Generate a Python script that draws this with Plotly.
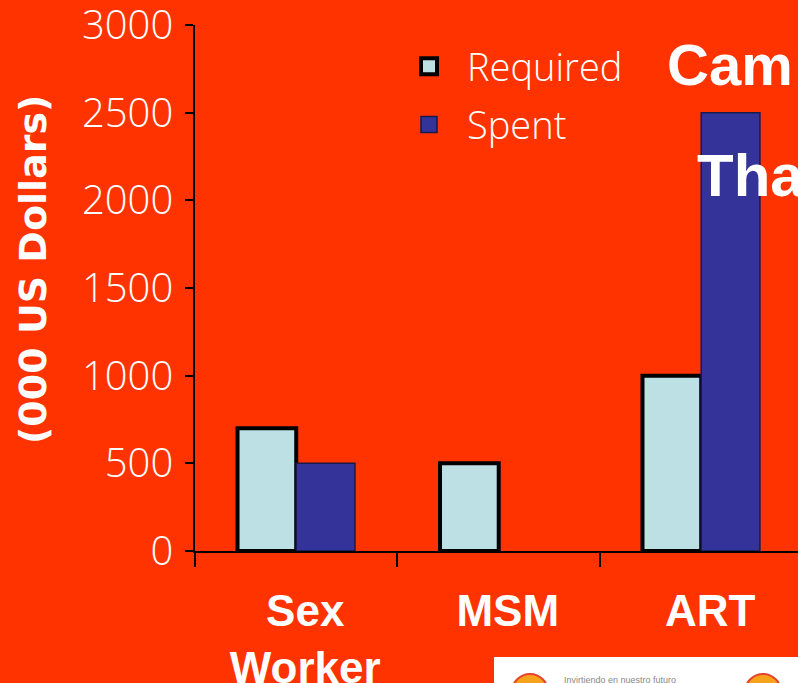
import plotly.graph_objects as go

categories = ["Sex<br>Worker", "MSM", "ART"]
required = [700, 500, 1000]
spent = [500, None, 2500]
y_ticks = [0, 500, 1000, 1500, 2000, 2500, 3000]

BG = "#FF3300"
W, H = 798, 683
L, R, T, B = 195, 0, 25, 132
PW, PH = W - L - R, H - T - B


def px(x):
    return (x - L) / PW


def py(y):
    return 1 - (y - T) / PH


fig = go.Figure()
fig.add_trace(go.Bar(
    x=categories, y=required, name="Required", showlegend=False,
    marker=dict(color="#BCE0E3", line=dict(color="black", width=4)),
))
fig.add_trace(go.Bar(
    x=categories, y=spent, name="Spent", showlegend=False,
    marker=dict(color="#333399", line=dict(color="#1A1A4D", width=1.5)),
))
# legend entries with larger square symbols
fig.add_trace(go.Scatter(
    x=[None], y=[None], mode="markers", name="Required", legendgroup="a",
    marker=dict(symbol="square", size=16, color="#BCE0E3", line=dict(color="black", width=4)),
))
fig.add_trace(go.Scatter(
    x=[None], y=[None], mode="markers", name="Spent", legendgroup="b",
    marker=dict(symbol="square", size=16, color="#333399", line=dict(color="#1A1A4D", width=1.5)),
))

fig.update_layout(
    width=W, height=H,
    margin=dict(l=L, r=R, t=T, b=B, pad=0, autoexpand=False),
    paper_bgcolor=BG, plot_bgcolor=BG,
    barmode="group", bargap=0.42, bargroupgap=0,
    showlegend=True,
    legend=dict(
        x=px(391), y=py(35), xanchor="left", yanchor="top",
        bgcolor="rgba(0,0,0,0)",
        font=dict(family="Open Sans", size=38, color="white", weight=300),
        itemwidth=66, tracegroupgap=6,
    ),
    xaxis=dict(
        type="category", range=[-0.5, 2.478], automargin=False,
        showline=True, linecolor="black", linewidth=1.5,
        ticks="outside", tickson="boundaries", ticklen=14, tickcolor="black", tickwidth=1.5,
        showgrid=False, zeroline=False,
        tickfont=dict(family="Liberation Sans", size=44, color="white", weight="bold"),
        ticklabelstandoff=20, ticklabelshift=9, ticklabeloverflow="allow",
    ),
    yaxis=dict(
        range=[0, 3000], tickvals=y_ticks, ticktext=[str(v) for v in y_ticks], automargin=False,
        showline=True, linecolor="black", linewidth=1.5,
        ticks="outside", ticklen=8, tickcolor="black", tickwidth=1.5,
        showgrid=False, zeroline=False,
        tickfont=dict(family="Open Sans", size=40, color="white", weight=300),
        ticklabelstandoff=4, ticklabeloverflow="allow",
    ),
    annotations=[
        dict(text="(000 US Dollars)", textangle=-90, x=px(33), y=py(270),
             xref="paper", yref="paper", showarrow=False, xanchor="center", yanchor="middle",
             font=dict(family="DejaVu Sans", size=38, color="white", weight="bold")),
        dict(text="Cam", x=px(665), y=py(64), xref="paper", yref="paper", showarrow=False,
             xanchor="left", yanchor="middle",
             font=dict(family="Liberation Sans", size=58, color="white", weight="bold")),
        dict(text="Tha", x=px(695), y=py(175), xref="paper", yref="paper", showarrow=False,
             xanchor="left", yanchor="middle",
             font=dict(family="Liberation Sans", size=60, color="white", weight="bold")),
        dict(text="Invirtiendo en nuestro futuro", x=px(562), y=py(680), xref="paper", yref="paper",
             showarrow=False, xanchor="left", yanchor="middle",
             font=dict(family="Liberation Sans", size=9, color="#888888")),
    ],
    shapes=[
        dict(type="rect", xref="paper", yref="paper", x0=px(494), x1=px(800), y0=py(657), y1=py(690),
             fillcolor="white", line=dict(width=0), layer="above"),
        dict(type="circle", xref="paper", yref="paper", x0=px(512), x1=px(548), y0=py(674), y1=py(710),
             fillcolor="#F7A21B", line=dict(color="#E8412C", width=2), layer="above"),
        dict(type="circle", xref="paper", yref="paper", x0=px(745), x1=px(781), y0=py(674), y1=py(710),
             fillcolor="#F7A21B", line=dict(color="#E8412C", width=2), layer="above"),
    ],
)

fig.write_html(
    "out.html",
    config={"displayModeBar": False},
    post_script="document.body.style.margin='0';document.body.style.overflow='hidden';",
)
